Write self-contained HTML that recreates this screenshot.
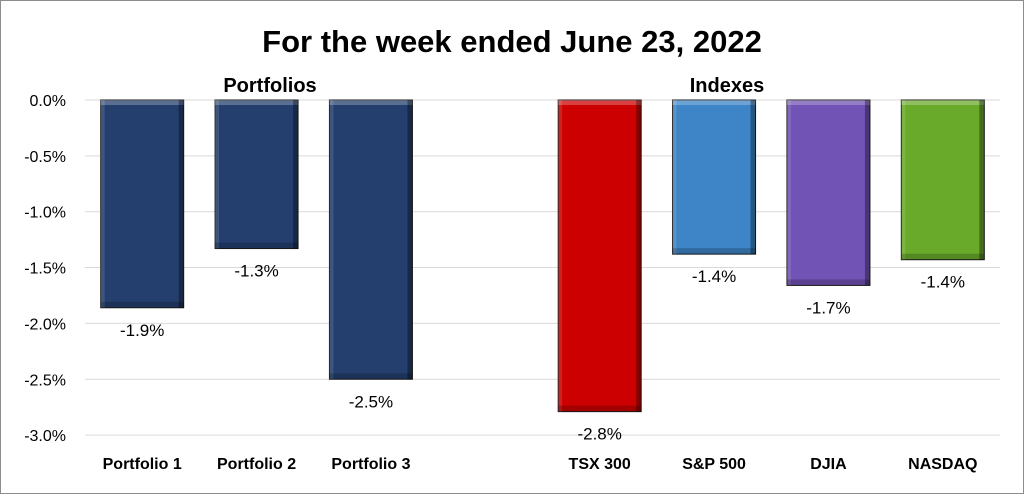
<!DOCTYPE html>
<html><head><meta charset="utf-8"><style>
html,body{margin:0;padding:0;background:#fff}
svg{display:block;font-family:"Liberation Sans",Arial,sans-serif}
</style></head><body>
<svg id="chart" width="1024" height="494" viewBox="0 0 1024 494">
<rect x="0.5" y="0.5" width="1023" height="493" fill="#fff" stroke="#8c8c8c" stroke-width="1"/>
<text x="512" y="52" text-anchor="middle" font-size="31" font-weight="bold" fill="#000">For the week ended June 23, 2022</text>
<g id="grid"></g>
<g id="bars"></g>
<g id="labels"></g>
<text x="270" y="92" text-anchor="middle" font-size="20" font-weight="bold">Portfolios</text>
<text x="727" y="92" text-anchor="middle" font-size="20" font-weight="bold">Indexes</text>
</svg>
<script>
const categories=["Portfolio 1","Portfolio 2","Portfolio 3","","TSX 300","S&P 500","DJIA","NASDAQ"];
const values=[-1.86,-1.33,-2.5,null,-2.79,-1.38,-1.66,-1.43];
const valueLabels=["-1.9%","-1.3%","-2.5%","","-2.8%","-1.4%","-1.7%","-1.4%"];
const colors=["#243f6e","#243f6e","#243f6e",null,"#cc0000","#3d85c6","#7153b5","#6aaa2a"];
const ticks=[0,-0.5,-1,-1.5,-2,-2.5,-3];
const tickLabels=["0.0%","-0.5%","-1.0%","-1.5%","-2.0%","-2.5%","-3.0%"];

const NS="http://www.w3.org/2000/svg";
const X0=85,X1=1000,Y0=100,PXPER=111.7;
const slot=(X1-X0)/categories.length, bw=83;
const y=v=>Y0-v*PXPER;
const cx=i=>X0+slot*(i+0.5);
function mk(tag,attrs,parent){const e=document.createElementNS(NS,tag);for(const k in attrs)e.setAttribute(k,attrs[k]);parent.appendChild(e);return e;}
const grid=document.getElementById('grid'),bars=document.getElementById('bars'),labels=document.getElementById('labels');
ticks.forEach((t,i)=>{
  const l=mk('line',{x1:X0,x2:X1,y1:y(t),y2:y(t),stroke:'#d9d9d9','stroke-width':1},grid);
  
  
  const tx=mk('text',{x:66,y:y(t)+6,'text-anchor':'end','font-size':16,fill:'#000'},grid);
  tx.textContent=tickLabels[i];
  
  
});
categories.forEach((c,i)=>{
  if(c){
    const cl=mk('text',{x:cx(i),y:469,'text-anchor':'middle','font-size':16,'font-weight':'bold'},labels);
    cl.textContent=c;
    
    
  }
  if(values[i]==null)return;
  const x=cx(i)-bw/2,h=y(values[i])-Y0;
  const g=mk('g',{},bars);
  
  
  mk('rect',{x:x,y:Y0,width:bw,height:h,fill:colors[i],stroke:'#1a1a1a','stroke-width':1},g);
  mk('rect',{x:x,y:Y0,width:bw,height:5,fill:'#fff',opacity:0.25},g);
  mk('rect',{x:x+bw-5,y:Y0,width:5,height:h,fill:'#000',opacity:0.35},g);
  mk('rect',{x:x,y:Y0,width:4,height:h,fill:'#fff',opacity:0.12},g);
  mk('rect',{x:x,y:Y0+h-6,width:bw,height:6,fill:'#000',opacity:0.2},g);
  const vl=mk('text',{x:cx(i),y:y(values[i])+28,'text-anchor':'middle','font-size':17},labels);
  vl.textContent=valueLabels[i];
  
  
});
</script>
</body></html>
